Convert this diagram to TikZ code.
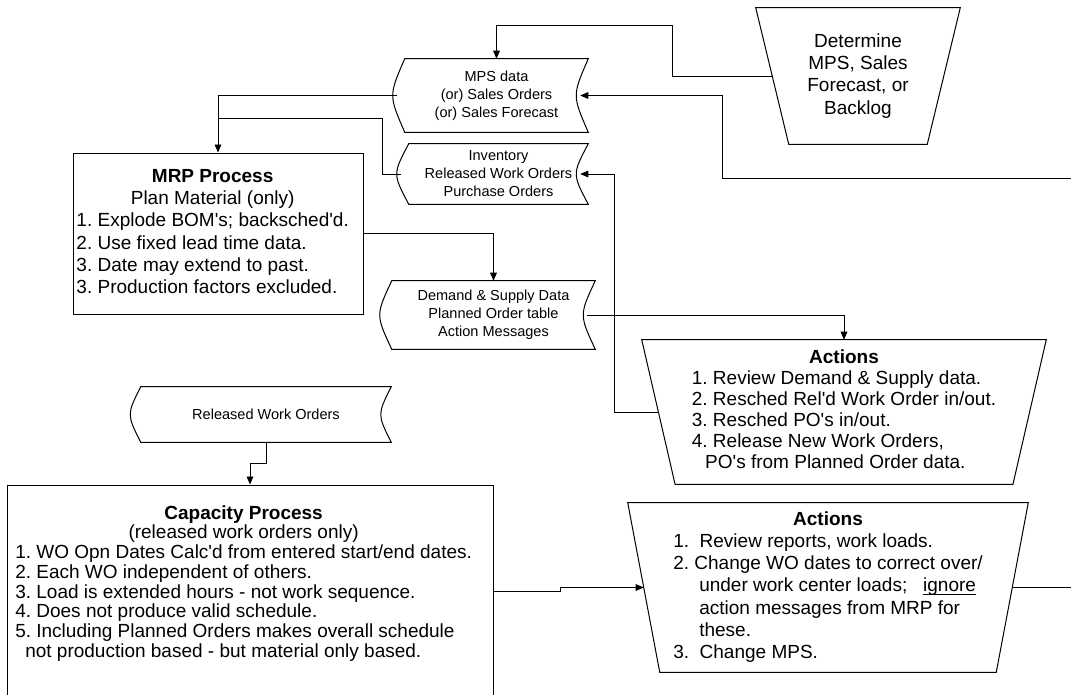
\documentclass[tikz,border=0pt]{standalone}
\usepackage{fontspec}
\setmainfont{Liberation Sans}[Ligatures=TeXOff]
\usetikzlibrary{arrows.meta}
\frenchspacing

% outline of a manual operation (wide at the top)
\newcommand\manualop[2]{\draw[outline] (#1.north west) -- (#1.north east)
  -- ([xshift=-#2]#1.south east) -- ([xshift=#2]#1.south west) -- cycle;}
% outline of a stored data symbol
\newcommand\storeddata[2]{\draw[outline] (#1.north west)
  .. controls ([xshift=-#2]#1.west) .. (#1.south west) -- (#1.south east)
  .. controls ([xshift=-#2]#1.east) .. (#1.north east) -- cycle;}

\begin{document}
\begin{tikzpicture}[x=0.75pt,y=-0.75pt,
    >={Triangle[length=6pt,width=5pt]},
    outline/.style={line width=0.75pt},
    flow/.style={line width=0.6pt},
    bigtext/.style={font=\fontsize{14.25}{16.6}\selectfont},
    smalltext/.style={font=\fontsize{10.9}{13.5}\selectfont, align=center},
    shapebox/.style={inner sep=0pt}]
  \useasboundingbox (0,0) rectangle (1071,694);
  \clip (0,0) rectangle (1071,694);

  % boxes
  \node[shapebox, bigtext, align=center, minimum width=153pt, minimum height=102pt]
    (det) at (858,76) {Determine\\MPS, Sales\\Forecast, or\\Backlog};
  \manualop{det}{24.75pt}
  \node[shapebox, smalltext, minimum width=137.25pt, minimum height=54.75pt]
    (mps) at (496.5,95.5) {MPS data\\(or) Sales Orders\\(or) Sales Forecast};
  \storeddata{mps}{12pt}
  \node[shapebox, smalltext, minimum width=134.25pt, minimum height=45pt]
    (inv) at (498.5,174) {Inventory\\Released Work Orders\\Purchase Orders};
  \storeddata{inv}{12pt}
  \node[draw, outline, shapebox, bigtext, minimum width=217.5pt, minimum height=120.75pt]
    (mrp) at (218,233.5) {\begin{tabular}{@{}l@{\hspace{8pt}}}
      \multicolumn{1}{@{}c@{\hspace{8pt}}}{\textbf{MRP Process}}\\
      \multicolumn{1}{@{}c@{\hspace{8pt}}}{Plan Material (only)}\\
      1. Explode BOM's; backsched'd.\\
      2. Use fixed lead time data.\\
      3. Date may extend to past.\\
      3. Production factors excluded.
    \end{tabular}};
  \node[shapebox, smalltext, minimum width=152.25pt, minimum height=51pt]
    (dem) at (493.5,315) {Demand \& Supply Data\\Planned Order table\\Action Messages};
  \storeddata{dem}{12pt}
  \node[shapebox, font=\fontsize{14.25}{15.75}\selectfont, minimum width=303pt, minimum height=108pt]
    (act1) at (844,412) {\begin{tabular}{@{}l@{}}
      \multicolumn{1}{@{}c@{}}{\textbf{Actions}}\\
      1. Review Demand \& Supply data.\\
      2. Resched Rel'd Work Order in/out.\\
      3. Resched PO's in/out.\\
      4. Release New Work Orders,\\
      \hspace*{10pt}PO's from Planned Order data.
    \end{tabular}};
  \manualop{act1}{25pt}
  \node[shapebox, smalltext, minimum width=187.5pt, minimum height=41.25pt]
    (rwo) at (266,414.5) {Released Work Orders};
  \storeddata{rwo}{10.5pt}
  \node[draw, outline, shapebox, minimum width=364.5pt, minimum height=159pt]
    (cap) at (250,591) {};
  \node[anchor=north west, shapebox, font=\fontsize{14.25}{14.8}\selectfont]
    (captext) at (15,505) {\begin{tabular}{@{}l@{\hspace{13pt}}}
      \multicolumn{1}{@{}c@{\hspace{13pt}}}{\textbf{Capacity Process}}\\
      \multicolumn{1}{@{}c@{\hspace{13pt}}}{(released work orders only)}\\
      1. WO Opn Dates Calc'd from entered start/end dates.\\
      2. Each WO independent of others.\\
      3. Load is extended hours - not work sequence.\\
      4. Does not produce valid schedule.\\
      5. Including Planned Orders makes overall schedule\\
      \hspace*{7.5pt}not production based - but material only based.
    \end{tabular}};
  \node[shapebox, bigtext, minimum width=300pt, minimum height=126.75pt]
    (act2) at (828,587.5) {\begin{tabular}{@{}l@{}}
      \multicolumn{1}{@{}c@{}}{\textbf{Actions}}\\
      1.\ \ Review reports, work loads.\\
      2. Change WO dates to correct over/\\
      \hspace*{19.5pt}under work center loads;\ \ \ \underbar{ignore}\\
      \hspace*{19.5pt}action messages from MRP for\\
      \hspace*{19.5pt}these.\\
      3.\ \ Change MPS.
    \end{tabular}};
  \manualop{act2}{24pt}

  % connection points
  \coordinate (detW) at ([xshift=12.4pt]det.west);
  \coordinate (mpsIn) at ([xshift=-6pt]mps.east);
  \coordinate (mpsOut) at ([xshift=-6pt]mps.west);
  \coordinate (invIn) at ([xshift=-6pt]inv.east);
  \coordinate (invOut) at ([xshift=-6pt]inv.west);
  \coordinate (demOut) at ([xshift=-6pt]dem.east);
  \coordinate (act1W) at ([xshift=12.75pt]act1.west);
  \coordinate (act2W) at ([xshift=12pt]act2.west);
  \coordinate (act2E) at ([xshift=-12pt]act2.east);
  \coordinate (offR1) at (1080,178);
  \coordinate (offR2) at (1080,587.5);

  % flow lines
  \draw[flow, ->] (detW) -| (672,25) -| (mps.north);
  \draw[flow, ->] (offR1) -| (722,95.5) -- (mpsIn);
  \draw[flow, ->] (mpsOut) -| (mrp.north);
  \draw[flow] (invOut) -| (382,118) -- (mrp.north |- 0,118);
  \draw[flow, ->] (mrp.east) -| (dem.north);
  \draw[flow, ->] (demOut) -| (act1.north);
  \draw[flow, ->] (act1W) -| (614,174) -- (invIn);
  \draw[flow, ->] (rwo.south) -- ++(0,21) -| (cap.north);
  \draw[flow, ->] (cap.east) -- ++(67,0) |- (act2W);
  \draw[flow] (act2E) -- (offR2);
\end{tikzpicture}
\end{document}
